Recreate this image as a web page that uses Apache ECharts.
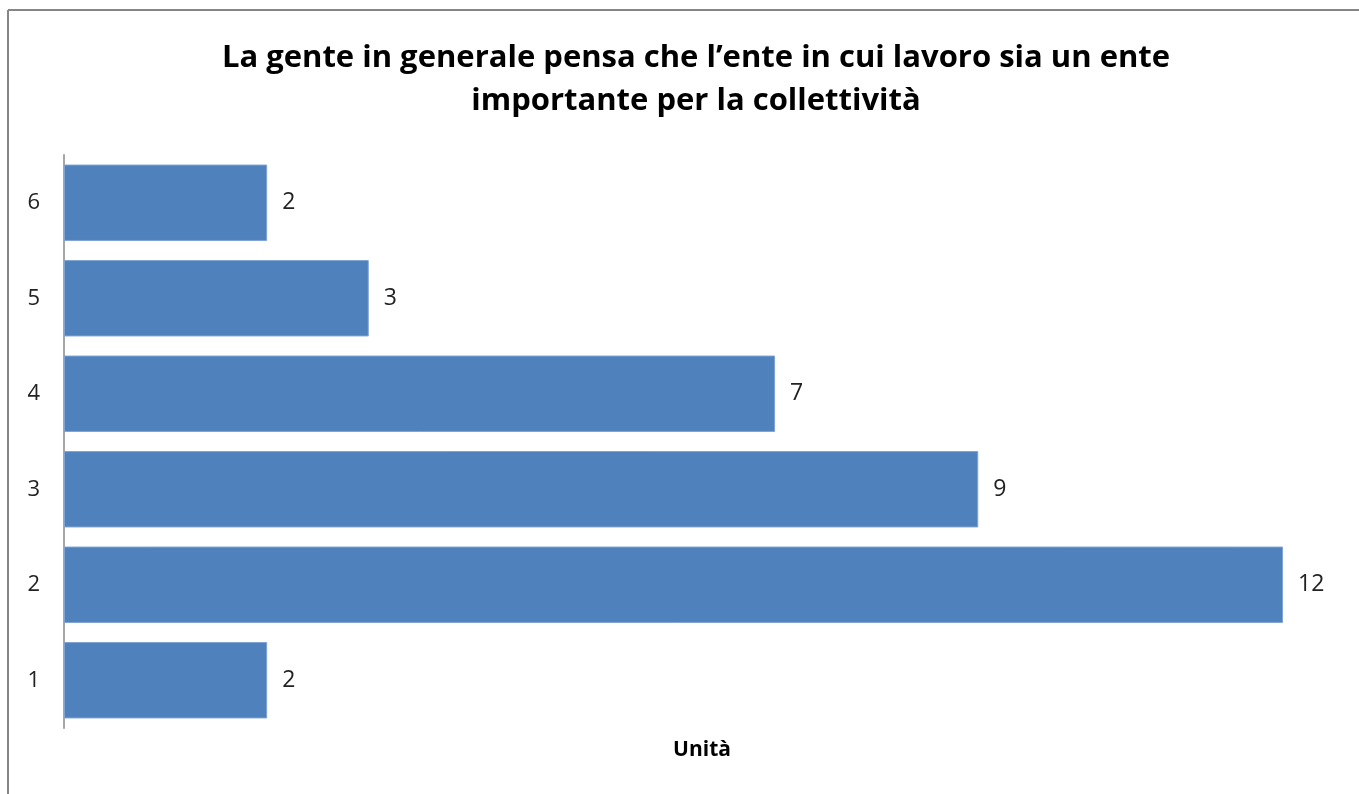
<!DOCTYPE html>
<html>
<head>
<meta charset="utf-8">
<script src="https://cdn.jsdelivr.net/npm/echarts@6/dist/echarts.min.js"></script>
<style>
html,body{margin:0;padding:0;background:#fff;}
#main{width:1359px;height:794px;}
</style>
</head>
<body>
<div id="main"></div>
<script>
const categories = ['1', '2', '3', '4', '5', '6'];
const values = [2, 12, 9, 7, 3, 2];
const titleText = 'La gente in generale pensa che l’ente in cui lavoro sia un ente\nimportante per la collettività';
const axisName = 'Unità';

const chart = echarts.init(document.getElementById('main'));
const FONT = 'Open Sans';
chart.setOption({
  animation: false,
  backgroundColor: '#ffffff',
  title: {
    text: titleText,
    left: 691,
    top: 32,
    textAlign: 'center',
    textStyle: {
      fontFamily: FONT,
      fontWeight: 'bold',
      fontSize: 31,
      lineHeight: 43,
      color: '#000000'
    }
  },
  grid: {
    left: 64,
    right: 76,
    top: 155,
    bottom: 66,
    containLabel: false
  },
  xAxis: {
    type: 'value',
    min: 0,
    max: 12,
    show: false
  },
  yAxis: {
    type: 'category',
    data: categories,
    axisLine: { show: true, lineStyle: { color: '#a6a6a6', width: 2 } },
    axisTick: { show: false },
    axisLabel: {
      fontFamily: FONT,
      fontSize: 22,
      color: '#222222',
      margin: 24,
      padding: [4, 0, 0, 0]
    },
    splitLine: { show: false }
  },
  series: [{
    type: 'bar',
    data: values,
    barCategoryGap: '20%',
    itemStyle: {
      color: '#4f81bd',
      borderColor: '#7fa3d3',
      borderWidth: 1
    },
    label: {
      show: true,
      position: 'right',
      distance: 15,
      fontFamily: FONT,
      fontSize: 23,
      color: '#222222',
      padding: [5, 0, 0, 0]
    }
  }],
  graphic: [
    {
      type: 'line',
      shape: { x1: 8, y1: 10, x2: 1359, y2: 10 },
      style: { stroke: '#868686', lineWidth: 2 }
    },
    {
      type: 'line',
      shape: { x1: 8, y1: 10, x2: 8, y2: 794 },
      style: { stroke: '#868686', lineWidth: 2 }
    },
    {
      type: 'text',
      x: 702,
      y: 750,
      style: {
        text: axisName,
        fontFamily: FONT,
        fontWeight: 'bold',
        fontSize: 21,
        fill: '#000000',
        textAlign: 'center',
        textVerticalAlign: 'middle'
      }
    }
  ]
});
</script>
</body>
</html>
